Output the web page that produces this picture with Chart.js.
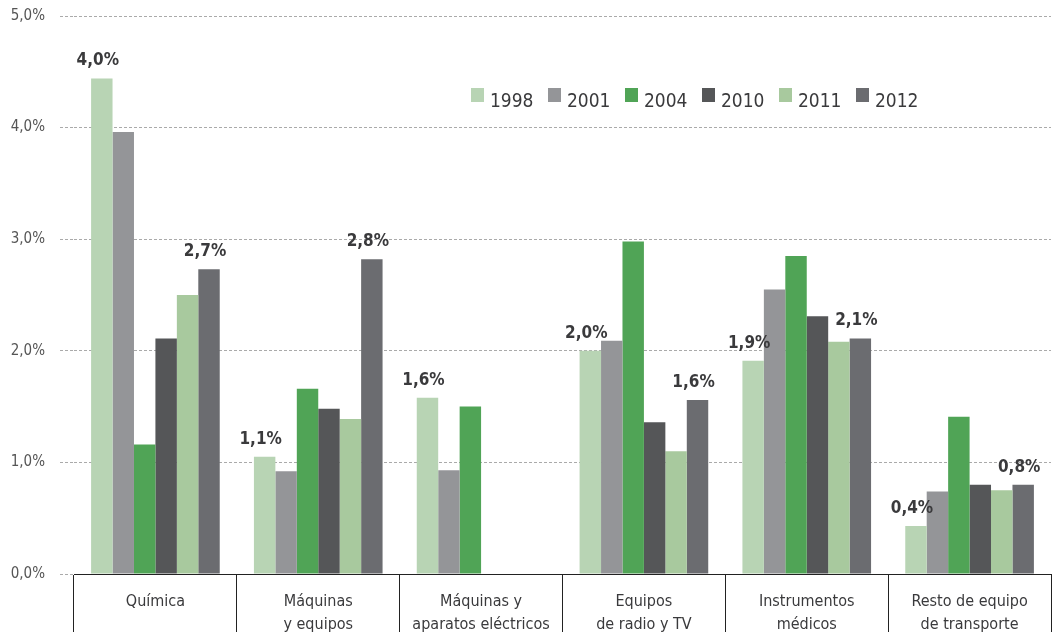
<!DOCTYPE html>
<html>
<head>
<meta charset="utf-8">
<script src="https://cdn.jsdelivr.net/npm/chart.js@4.4.1/dist/chart.umd.min.js"></script>
<style>
    html, body { margin: 0; padding: 0; background: #fff; }
    #wrap { width: 1052px; height: 632px; position: relative; }
</style>
</head>
<body>
<div id="wrap"><canvas id="chart"></canvas></div>
<script>
// Chart data
const categories = [
    ['Química'],
    ['Máquinas', 'y equipos'],
    ['Máquinas y', 'aparatos eléctricos'],
    ['Equipos', 'de radio y TV'],
    ['Instrumentos', 'médicos'],
    ['Resto de equipo', 'de transporte']
];
const years = ['1998', '2001', '2004', '2010', '2011', '2012'];
const values1998 = [4.44, 1.05, 1.58, 2.00, 1.91, 0.43];
const values2001 = [3.96, 0.92, 0.93, 2.09, 2.55, 0.74];
const values2004 = [1.16, 1.66, 1.50, 2.98, 2.85, 1.41];
const values2010 = [2.11, 1.48, null, 1.36, 2.31, 0.80];
const values2011 = [2.50, 1.39, null, 1.10, 2.08, 0.75];
const values2012 = [2.73, 2.82, null, 1.56, 2.11, 0.80];
// printed labels above the first and last bar of each group
const labels1998 = ['4,0%', '1,1%', '1,6%', '2,0%', '1,9%', '0,4%'];
const labels2012 = ['2,7%', '2,8%', null, '1,6%', '2,1%', '0,8%'];
const yTickLabels = ['0,0%', '1,0%', '2,0%', '3,0%', '4,0%', '5,0%'];

const colors = ['#b8d4b4', '#949598', '#50a456', '#555658', '#a8c99e', '#6b6c70'];
const FONT = "'Liberation Sans Narrow', 'DejaVu Sans Condensed', 'Roboto', sans-serif";

const seriesValues = [values1998, values2001, values2004, values2010, values2011, values2012];

// Draws the value labels over the bars
const barLabels = {
    id: 'barLabels',
    afterDatasetsDraw(chart) {
        const ctx = chart.ctx;
        ctx.save();
        ctx.font = 'bold 17px ' + FONT;
        ctx.fillStyle = '#3a3a3c';
        ctx.textAlign = 'center';
        ctx.textBaseline = 'bottom';
        const sets = [[0, labels1998], [5, labels2012]];
        sets.forEach(([dsIndex, texts]) => {
            const meta = chart.getDatasetMeta(dsIndex);
            texts.forEach((text, i) => {
                if (!text) return;
                const bar = meta.data[i];
                ctx.fillText(text, bar.x - 4, bar.y - 9);
            });
        });
        ctx.restore();
    }
};

// Legend drawn inside the plot, top right
const innerLegend = {
    id: 'innerLegend',
    afterDraw(chart) {
        const ctx = chart.ctx;
        ctx.save();
        ctx.font = '19px ' + FONT;
        ctx.textBaseline = 'alphabetic';
        ctx.textAlign = 'left';
        let x = 471;
        const top = 88;
        chart.data.datasets.forEach(ds => {
            ctx.fillStyle = ds.backgroundColor;
            ctx.fillRect(x, top, 13, 14);
            ctx.fillStyle = '#3a3a3c';
            ctx.fillText(ds.label, x + 19, top + 19);
            x += 77;
        });
        ctx.restore();
    }
};

const ctx = document.getElementById('chart').getContext('2d');
const chart = new Chart(ctx, {
    type: 'bar',
    data: {
        labels: categories,
        datasets: years.map((year, i) => ({
            label: year,
            data: seriesValues[i],
            backgroundColor: colors[i],
            borderWidth: 0,
            categoryPercentage: 0.79,
            barPercentage: 1.0
        }))
    },
    options: {
        responsive: true,
        maintainAspectRatio: false,
        animation: false,
        layout: { padding: { top: 16, right: 1, left: 0, bottom: 0 } },
        plugins: {
            legend: { display: false },
            tooltip: { enabled: false }
        },
        scales: {
            x: {
                offset: true,
                grid: {
                    offset: true,
                    drawOnChartArea: false,
                    drawTicks: true,
                    tickLength: 58,
                    color: '#222',
                    lineWidth: 1
                },
                border: { display: true, color: '#222', width: 1 },
                ticks: {
                    padding: -42,
                    font: { family: FONT, size: 16, lineHeight: 1.45 },
                    color: '#3a3a3c',
                    maxRotation: 0,
                    autoSkip: false
                },
                afterFit(scale) { scale.height = 58; }
            },
            y: {
                min: 0,
                max: 5,
                ticks: {
                    stepSize: 1,
                    padding: 15,
                    font: { family: FONT, size: 15 },
                    color: '#555',
                    callback: (value, index) => yTickLabels[index]
                },
                grid: {
                    color: '#aaa',
                    tickColor: '#aaa',
                    tickLength: 14,
                    tickBorderDash: [3, 2],
                    lineWidth: 1
                },
                border: { display: false, dash: [3, 2] },
                afterFit(scale) {
                    scale.width = 74;
                    scale.paddingTop = 0;
                    scale.paddingBottom = 0;
                }
            }
        }
    },
    plugins: [barLabels, innerLegend]
});
</script>
</body>
</html>
